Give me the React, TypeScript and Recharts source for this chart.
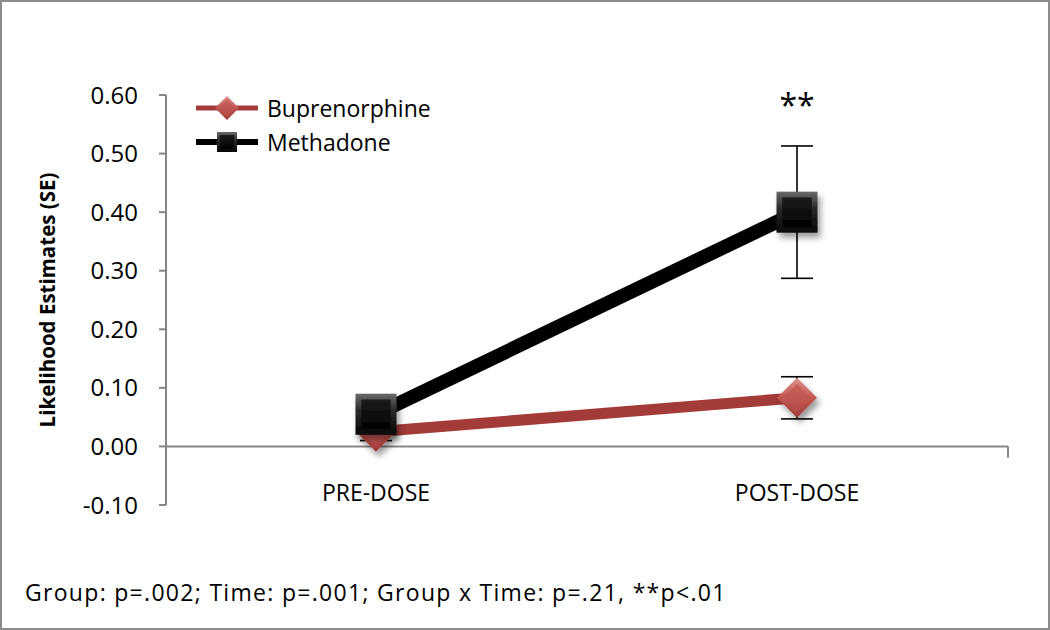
import React from "react";
import {
  ErrorBar,
  Line,
  LineChart,
  ReferenceDot,
  ReferenceLine,
  XAxis,
  YAxis,
} from "recharts";

const categories = ["PRE-DOSE", "POST-DOSE"];
const buprenorphine = [0.025, 0.083];
const buprenorphineSE = [0.015, 0.036];
const methadone = [0.055, 0.4];
const methadoneSE = [0.03, 0.113];
const yTicks = [-0.1, 0, 0.1, 0.2, 0.3, 0.4, 0.5, 0.6];
const categoryBoundaries = [1, 2];
const starText = "**";
const starAt = { x: "POST-DOSE", y: 0.582 };
const note = "Group: p=.002; Time: p=.001; Group x Time: p=.21, **p<.01";

const data = categories.map((name, i) => ({
  name,
  bup: buprenorphine[i],
  bupSE: buprenorphineSE[i],
  met: methadone[i],
  metSE: methadoneSE[i],
}));

const FONT = "'Open Sans', 'DejaVu Sans', sans-serif";
const AXIS = "#868686";
const BUP_LINE = "#a33b38";

const series = [
  { name: "Buprenorphine", color: BUP_LINE, marker: "diamond" },
  { name: "Methadone", color: "#000", marker: "square" },
];

function diamondShape(cx: number, cy: number, r: number, key?: string) {
  const pts = (k: number) =>
    `${cx},${cy - k} ${cx + k},${cy} ${cx},${cy + k} ${cx - k},${cy}`;
  return (
    <g key={key}>
      <polygon points={pts(r)} fill="url(#diaOuter)" />
      <polygon points={pts(r * 0.7)} fill="url(#diaInner)" />
    </g>
  );
}

function squareShape(cx: number, cy: number, s: number, key?: string) {
  const b = Math.max(3, s * 0.28);
  return (
    <g key={key}>
      <rect x={cx - s} y={cy - s} width={s * 2} height={s * 2} fill="url(#sqOuter)" />
      <rect x={cx - s + b} y={cy - s + b} width={s * 2 - 2 * b} height={s * 2 - 2 * b} fill="url(#sqInner)" />
    </g>
  );
}

const DiamondDot = (props: any) => {
  const { cx, cy, index } = props;
  if (cx == null || cy == null) return <g key={`bd${index}`} />;
  return (
    <g key={`bd${index}`} filter="url(#mShadow)">
      {diamondShape(cx, cy, 20)}
    </g>
  );
};

const SquareDot = (props: any) => {
  const { cx, cy, index } = props;
  if (cx == null || cy == null) return <g key={`md${index}`} />;
  return (
    <g key={`md${index}`} filter="url(#mShadow)">
      {squareShape(cx, cy, 20.5)}
    </g>
  );
};

const YLabel = (props: any) => {
  const vb = props.viewBox || { x: 0, y: 95, height: 410 };
  const x = vb.x + 47;
  const y = vb.y + vb.height / 2;
  return (
    <text
      x={x}
      y={y}
      transform={`rotate(-90 ${x} ${y})`}
      textAnchor="middle"
      dominantBaseline="central"
      fontFamily={FONT}
      fontWeight={700}
      fontSize={20.5}
      fill="#000"
    >
      Likelihood Estimates (SE)
    </text>
  );
};

function ChartLegend() {
  return (
    <div
      style={{
        position: "absolute",
        left: 196,
        top: 91,
        fontFamily: FONT,
        fontSize: 23,
        color: "#000",
      }}
    >
      {series.map((s) => (
        <div key={s.name} style={{ display: "flex", alignItems: "center", height: 34 }}>
          <svg width={62} height={34} style={{ marginRight: 9 }}>
            <line
              x1={1}
              x2={61}
              y1={17}
              y2={17}
              stroke={s.color}
              strokeWidth={s.marker === "square" ? 6 : 5}
              strokeLinecap="round"
            />
            {s.marker === "square" ? squareShape(31, 17, 10) : diamondShape(31, 17, 12)}
          </svg>
          <span>{s.name}</span>
        </div>
      ))}
    </div>
  );
}

export default function App() {
  return (
    <div style={{ position: "absolute", left: 0, top: 0, width: 1050, height: 630, background: "#fff" }}>
      <svg width={0} height={0} style={{ position: "absolute" }}>
        <defs>
          <filter id="mShadow" x="-60%" y="-60%" width="220%" height="220%">
            <feDropShadow dx="3" dy="5" stdDeviation="3" floodColor="#000" floodOpacity="0.4" />
          </filter>
          <linearGradient id="sqOuter" x1="0" y1="0" x2="0" y2="1">
            <stop offset="0%" stopColor="#6a6a6a" />
            <stop offset="40%" stopColor="#2a2a2a" />
            <stop offset="100%" stopColor="#050505" />
          </linearGradient>
          <linearGradient id="sqInner" x1="0" y1="0" x2="0" y2="1">
            <stop offset="0%" stopColor="#1c1c1c" />
            <stop offset="100%" stopColor="#000" />
          </linearGradient>
          <linearGradient id="diaOuter" x1="0" y1="0" x2="0" y2="1">
            <stop offset="0%" stopColor="#e0918c" />
            <stop offset="50%" stopColor="#c25752" />
            <stop offset="100%" stopColor="#9e3b38" />
          </linearGradient>
          <linearGradient id="diaInner" x1="0" y1="0" x2="0" y2="1">
            <stop offset="0%" stopColor="#c9615c" />
            <stop offset="100%" stopColor="#b84b47" />
          </linearGradient>
        </defs>
      </svg>

      <LineChart
        width={1050}
        height={630}
        data={data}
        margin={{ top: 95, right: 42, left: 0, bottom: 95 }}
      >
        <XAxis
          dataKey="name"
          padding={{ left: 210, right: 211 }}
          axisLine={false}
          tickLine={false}
          tickSize={0}
          height={30}
          tick={{ fill: "#000", fontSize: 23, fontFamily: FONT, dy: -22 }}
        />
        <XAxis xAxisId="num" type="number" domain={[0, 2]} hide />

        <YAxis
          type="number"
          domain={[-0.1, 0.6]}
          ticks={yTicks}
          interval={0}
          allowDataOverflow
          width={166}
          tickFormatter={(v: number) => v.toFixed(2)}
          axisLine={{ stroke: AXIS, strokeWidth: 2 }}
          tickLine={{ stroke: AXIS, strokeWidth: 2 }}
          tickSize={7}
          tickMargin={21}
          tick={{ fill: "#000", fontSize: 24, fontFamily: FONT }}
          label={{ content: YLabel }}
        />

        <ReferenceLine y={0} stroke={AXIS} strokeWidth={2} />
        {categoryBoundaries.map((b) => (
          <ReferenceLine
            key={b}
            xAxisId="num"
            segment={[
              { x: b, y: 0 },
              { x: b, y: -0.019 },
            ]}
            stroke={AXIS}
            strokeWidth={2}
          />
        ))}

        <Line
          name="Buprenorphine"
          dataKey="bup"
          stroke={BUP_LINE}
          strokeWidth={11}
          dot={DiamondDot}
          activeDot={false}
          isAnimationActive={false}
        >
          <ErrorBar dataKey="bupSE" width={16} stroke="#000" strokeWidth={1.6} direction="y" />
        </Line>
        <Line
          name="Methadone"
          dataKey="met"
          stroke="#000"
          strokeWidth={14}
          dot={SquareDot}
          activeDot={false}
          isAnimationActive={false}
        >
          <ErrorBar dataKey="metSE" width={16} stroke="#000" strokeWidth={1.6} direction="y" />
        </Line>

        <ReferenceDot
          x={starAt.x}
          y={starAt.y}
          r={1}
          fill="none"
          stroke="none"
          label={{ value: starText, position: "center", fontSize: 32, fill: "#000", fontFamily: FONT }}
        />
      </LineChart>

      <ChartLegend />

      <div
        style={{
          position: "absolute",
          left: 25,
          top: 576,
          fontFamily: FONT,
          fontSize: 23,
          letterSpacing: 1.3,
          color: "#000",
          whiteSpace: "nowrap",
        }}
      >
        {note}
      </div>

      <div
        style={{
          position: "absolute",
          left: 0,
          top: 0,
          width: 1050,
          height: 630,
          boxSizing: "border-box",
          border: "2px solid #8c8c8c",
          pointerEvents: "none",
        }}
      />
    </div>
  );
}
